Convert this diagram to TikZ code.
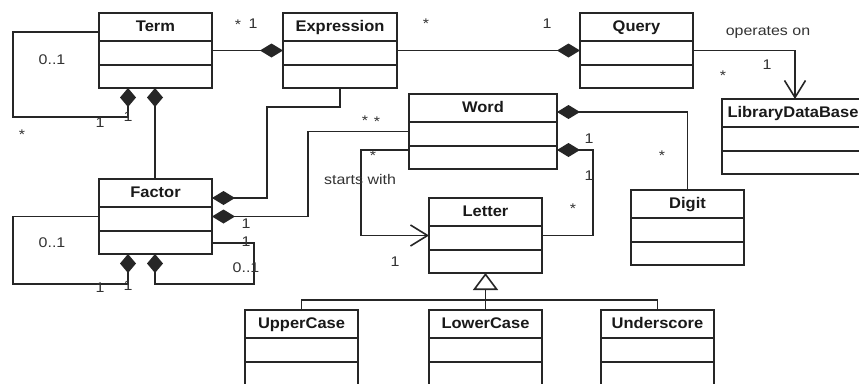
\documentclass[tikz,border=0pt]{standalone}
\usepackage{fontspec}
\setmainfont{Liberation Sans}
\newfontfamily\titlefont[FakeStretch=1.07]{Liberation Sans}
\newfontfamily\labelfont[FakeStretch=1.14]{Liberation Sans}
\usetikzlibrary{arrows.meta}

\tikzset{
  ink/.style={draw=black!85, line width=1.6pt},
  classframe/.style={ink, rectangle, inner sep=0pt, outer sep=0pt,
    minimum height=75pt, fill=white},
  classtitle/.style={inner sep=0pt, outer sep=0pt, text=black!90,
    font=\titlefont\bfseries\fontsize{15.4}{16}\selectfont},
  lab/.style={inner sep=0pt, outer sep=0pt, text=black!80, anchor=base,
    font=\labelfont\fontsize{14}{15}\selectfont},
  conn/.style={draw=black!85, line width=1.6pt},
  compE/.style={conn, -{Diamond[length=23pt,width=14pt]}},
  compS/.style={conn, {Diamond[length=23pt,width=14pt]}-},
  vcompE/.style={conn, -{Diamond[length=19pt,width=16pt]}},
  vcompS/.style={conn, {Diamond[length=19pt,width=16pt]}-},
  nav/.style={conn, -{Straight Barb[length=17pt,width=21pt]}},
  gen/.style={conn, -{Triangle[open,length=17pt,width=25pt,fill=white]}},
}

% UML class: [title options]{name}{left}{top}{width}{title}
\newcommand{\classbox}[6][]{%
  \node[classframe, minimum width=#5pt, anchor=north west] (#2) at (#3,#4) {};
  \draw[ink] ([yshift=-28pt]#2.north west) -- ([yshift=-28pt]#2.north east)
             ([yshift=-52pt]#2.north west) -- ([yshift=-52pt]#2.north east);
  \node[classtitle, anchor=base, #1] (#2-title) at ([yshift=-18pt]#2.north) {#6};
}

\begin{document}
\begin{tikzpicture}[x=1pt, y=-1pt]
\useasboundingbox (0,0) rectangle (859,383);
\fill[white] (0,0) rectangle (859,383);
\clip (0,0) rectangle (859,383);

% classes
\classbox{term}{99}{13}{113}{Term}
\classbox{expr}{283}{13}{114}{Expression}
\classbox{query}{580}{13}{113}{Query}
\classbox[xshift=-2pt]{ldb}{722}{99}{146}{LibraryDataBase}
\classbox{word}{409}{94}{148}{Word}
\classbox{letter}{429}{198}{113}{Letter}
\classbox{digit}{631}{190}{113}{Digit}
\classbox{factor}{99}{179}{113}{Factor}
\classbox{upper}{245}{310}{113}{UpperCase}
\classbox{lower}{429}{310}{113}{LowerCase}
\classbox{under}{601}{310}{113}{Underscore}

% compositions
\draw[compE] (term.east) -- (expr.west);
\draw[compE] (expr.east) -- (query.west);
\draw[vcompE] ([yshift=-19pt]term.north west) -| (13,117) -| ([xshift=29pt]term.south west);
\draw[vcompS] ([xshift=56pt]term.south west) -- ([xshift=56pt]factor.north west);
\draw[compE] (expr.south) |- (267,107) |- ([yshift=-19pt]factor.north east);
\draw[compE] (word.west) -| ([xshift=96pt]factor.east) -- (factor.east);
\draw[vcompE] (factor.west) -| (13,284) -| ([xshift=29pt]factor.south west);
\draw[vcompE] ([yshift=-64pt]factor.north east) -| (254,284) -| ([xshift=56pt]factor.south west);
\draw[compS] ([yshift=-18pt]word.north east) -| (digit.north);
\draw[compS] ([yshift=-56pt]word.north east) -| ([xshift=51pt]letter.east) -- (letter.east);

% directed associations
\draw[nav] (query.east) -| (ldb.north);
\draw[nav] ([yshift=-56pt]word.north west) -| ([xshift=-68pt]letter.west) -- (letter.west);

% generalisation
\draw[gen] (lower.north) -- (letter.south);
\draw[conn] (upper.north) -- ++(0,-10) -| (under.north);

% multiplicities and role names
\node[lab] (m1) at (52,64) {0..1};
\node[lab] (m2) at (22,139) {*};
\node[lab] (m3) at (100,127) {1};
\node[lab] (m4) at (128,121) {1};
\node[lab] (m5) at (238,29) {*};
\node[lab] (m6) at (253,28) {1};
\node[lab] (m7) at (426,28) {*};
\node[lab] (m8) at (547,28) {1};
\node[lab] (r1) at (768,35) {operates on};
\node[lab] (m9) at (767,69) {1};
\node[lab] (m10) at (723,80) {*};
\node[lab] (m11) at (662,160) {*};
\node[lab] (m12) at (365,125) {*};
\node[lab] (m13) at (377,126) {*};
\node[lab] (m14) at (373,160) {*};
\node[lab] (r2) at (360,184) {starts with};
\node[lab] (m15) at (395,266) {1};
\node[lab] (m16) at (589,143) {1};
\node[lab] (m17) at (589,180) {1};
\node[lab] (m18) at (573,213) {*};
\node[lab] (m19) at (246,228) {1};
\node[lab] (m20) at (246,246) {1};
\node[lab] (m21) at (246,272) {0..1};
\node[lab] (m22) at (52,247) {0..1};
\node[lab] (m23) at (100,292) {1};
\node[lab] (m24) at (128,290) {1};
\end{tikzpicture}
\end{document}
